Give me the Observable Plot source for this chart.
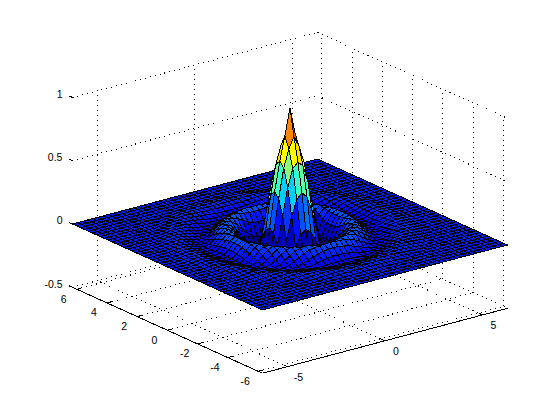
<!DOCTYPE html>
<html>
<head>
<meta charset="utf-8">
<style>html,body{margin:0;padding:0;background:#fff}svg{display:block}</style>
<script src="https://cdn.jsdelivr.net/npm/d3@7"></script>
<script src="https://cdn.jsdelivr.net/npm/@observablehq/plot@0.6"></script>
</head>
<body>
<div id="chart"></div>
<script>
const xTicks = [-5, 0, 5];
const yTicks = [-6, -4, -2, 0, 2, 4, 6];
const zTicks = [-0.5, 0, 0.5, 1];
const zLabels = ["-0.5", "0", "0.5", "1"];
const xLimit = 2 * Math.PI;
const floorZ = -0.5;
const cellsPerSide = 48;
// Surface heights read per grid ring: row = larger offset from the centre, entry = smaller offset.
// Anything past the listed entries is the flat outer sheet, height 0.
const heightRows = [
[1],
[.788,.70],
[.60,.56,.42],
[.373,.328,.206,.03],
[.097,.063,-.015,-.113,-.173],
[-.113,-.122,-.149,-.177,-.162,-.107],
[-.173,-.171,-.164,-.14,-.094,-.032,.026],
[-.113,-.107,-.088,-.052,-.007,.036,.063,.08],
[-.012,-.007,.008,.031,.055,.069,.077,.066,.038],
[.056,.058,.063,.07,.08,.072,.06,.034,.008,-.017],
[.077,.076,.074,.069,.062,.044,.023,.002,-.02,-.027,-.027],
[.052,.05,.044,.034,.021,.006,-.01,-.023,-.029,-.026,-.02,-.008],
[.009,.008,.003,-.004,-.015,-.022,-.026,-.029,-.024,-.018,-.007,.002,.008],
[-.022,-.023,-.024,-.026,-.029,-.028,-.025,-.021,-.014,-.004,.003,.009,.011,.01],
[-.028,-.028,-.027,-.025,-.023,-.02,-.014,-.007,0,.005,.01,.011,.01,.008,.003],
[-.018,-.018,-.016,-.013,-.009,-.004,0,.004,.008,.011,.012,.01,.007,.003,-.001,-.003],
[0,0,0,.002,.004,.006,.009,.01,.012,.011,.009,.006,.002,-.001,-.003,-.002,0],
[.008,.009,.009,.01,.01,.011,.012,.01,.009,.007,.004,0,-.002,-.003,-.002],
[.012,.012,.011,.011,.01,.009,.008,.006,.004,.001,-.001,-.002,-.003,-.001],
[.008,.008,.008,.007,.006,.004,.002,0,-.001,-.002,-.003,-.002],
[.002,.002,.002,0,-.001,-.001,-.002,-.002,-.003]
];
const jetStops = [0, .125, .375, .625, .875, 1];
const jetColors = ["#00007f", "#0000ff", "#00ffff", "#ffff00", "#ff0000", "#7f0000"];
const zMin = -0.18, zMax = 1;

// Oblique 3-D view of the box onto the page.
const sx = (x, y) => 289.5 + 19.5 * x - 15.12 * y;
const sy = (x, y, z) => 234 - 5.17 * x - 6.84 * y - 126.6 * z;

const half = cellsPerSide / 2;
const step = xLimit / half;
const heightAt = (a, b) => {
  const p = Math.abs(a - half), q = Math.abs(b - half);
  return heightRows[Math.max(p, q)]?.[Math.min(p, q)] ?? 0;
};
const facets = [];
for (let a = cellsPerSide - 1; a >= 0; a--) {
  for (let b = cellsPerSide - 1; b >= 0; b--) {
    const id = a * 100 + b;
    const c = heightAt(a, b);
    for (const [p, q] of [[a, b], [a + 1, b], [a + 1, b + 1], [a, b + 1]]) {
      const x = -xLimit + p * step, y = -xLimit + q * step;
      facets.push({id, c, px: sx(x, y), py: sy(x, y, heightAt(p, q))});
    }
  }
}

const seg = (x1, y1, z1, x2, y2, z2) => ({x1: sx(x1, y1), y1: sy(x1, y1, z1), x2: sx(x2, y2), y2: sy(x2, y2, z2)});
const L = xLimit, F = floorZ;
const zTop = zTicks[zTicks.length - 1];
const grid = [
  ...xTicks.flatMap(t => [seg(t, -L, F, t, L, F), seg(t, L, F, t, L, zTop)]),
  ...yTicks.flatMap(t => [seg(-L, t, F, L, t, F), seg(L, t, F, L, t, zTop)]),
  ...zTicks.flatMap(t => [seg(-L, L, t, L, L, t), seg(L, L, t, L, -L, t)])
];
const axes = [seg(-L, -L, F, L, -L, F), seg(-L, -L, F, -L, L, F)];
const tickLen = 0.25;
const tickMarks = [
  ...xTicks.map(t => seg(t, -L, F, t, -L + tickLen, F)),
  ...yTicks.map(t => seg(-L, t, F, -L + tickLen, t, F)),
  ...zTicks.map(t => seg(-L, L, t, -L, L + tickLen, t))
];
const xText = xTicks.map(t => ({t: String(t), px: sx(t, -L), py: sy(t, -L, F)}));
const yText = yTicks.map(t => ({t: String(t), px: sx(-L, t), py: sy(-L, t, F)}));
const zText = zTicks.map((t, i) => ({t: zLabels[i], px: sx(-L, L), py: sy(-L, L, t)}));

const font = {fontFamily: "Liberation Sans, Arial, sans-serif", fontSize: 10.5, fill: "black"};
const chart = Plot.plot({
  width: 560, height: 420,
  margin: 0,
  style: {background: "white"},
  x: {domain: [0, 560], range: [0, 560], axis: null},
  y: {domain: [0, 420], range: [0, 420], axis: null},
  color: {
    type: "linear",
    domain: jetStops.map(t => zMin + t * (zMax - zMin)),
    range: jetColors,
    interpolate: "rgb"
  },
  marks: [
    Plot.link(grid, {x1: "x1", y1: "y1", x2: "x2", y2: "y2", stroke: "black", strokeWidth: 1, strokeDasharray: "1 4", shapeRendering: "crispEdges"}),
    Plot.line(facets, {
      x: "px", y: "py", z: "id", fill: "c", stroke: "black", strokeWidth: 1,
      curve: "linear-closed", shapeRendering: "crispEdges"
    }),
    Plot.link(axes, {x1: "x1", y1: "y1", x2: "x2", y2: "y2", stroke: "black", strokeWidth: 1, shapeRendering: "crispEdges"}),
    Plot.link(tickMarks, {x1: "x1", y1: "y1", x2: "x2", y2: "y2", stroke: "black", strokeWidth: 1, shapeRendering: "crispEdges"}),
    Plot.text(xText, {x: "px", y: "py", text: "t", dx: 11, dy: 11, ...font}),
    Plot.text(yText, {x: "px", y: "py", text: "t", dx: -13, dy: 10, ...font}),
    Plot.text(zText, {x: "px", y: "py", text: "t", dx: -10, dy: -3, textAnchor: "end", ...font})
  ]
});
document.getElementById("chart").append(chart);
</script>
</body>
</html>
